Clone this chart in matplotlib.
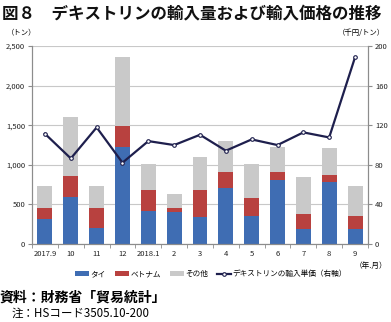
import matplotlib
matplotlib.use('Agg')
import matplotlib.pyplot as plt
import numpy as np

plt.rcParams['font.family'] = ['Noto Sans CJK JP', 'DejaVu Sans']

months = ["2017.9", "10", "11", "12", "2018.1", "2", "3", "4", "5", "6", "7", "8", "9"]
thai = [311, 598, 202, 1221, 421, 400, 337, 703, 358, 808, 185, 787, 185]
vietnam = [148, 261, 253, 273, 257, 59, 341, 202, 227, 105, 194, 84, 169]
other = [278, 741, 277, 863, 332, 168, 425, 391, 421, 312, 463, 341, 383]
price = [111.4, 86.5, 117.8, 82.2, 104.0, 100.0, 110.4, 94.3, 105.7, 100.0, 112.8, 107.7, 188.6]

c_thai = "#3f6db3"
c_viet = "#b8413f"
c_other = "#c9c9c9"
c_line = "#1e1f4d"
c_axis = "#8c8c8c"

fig = plt.figure(figsize=(3.91, 3.22), dpi=100)
ax = fig.add_axes([0.082, 0.242, 0.859, 0.615])
ax2 = ax.twinx()

x = np.arange(len(months))
w = 0.58
b1 = ax.bar(x, thai, w, color=c_thai, zorder=2)
b2 = ax.bar(x, vietnam, w, bottom=thai, color=c_viet, zorder=2)
bottom2 = np.array(thai) + np.array(vietnam)
b3 = ax.bar(x, other, w, bottom=bottom2, color=c_other, zorder=2)

ln, = ax2.plot(x, price, color=c_line, lw=1.6, marker='o', ms=2.6,
               mfc='white', mec=c_line, mew=0.8, zorder=3)

ax.set_xlim(-0.5, len(months) - 0.5)
ax.set_ylim(0, 2500)
ax2.set_ylim(0, 200)
ax.set_yticks(range(0, 2501, 500))
ax.set_yticklabels([f"{v:,}" for v in range(0, 2501, 500)])
ax2.set_yticks(range(0, 201, 40))
ax.yaxis.grid(True, color="#c8c8c8", lw=0.8, zorder=0)
ax.set_axisbelow(True)

ax.set_xticks(x)
ax.set_xticklabels(months)
ax.set_xticks(np.arange(-0.5, len(months), 1), minor=True)
ax.tick_params(axis='x', which='major', length=0, labelsize=5.5, pad=4, colors='#222222')
ax.tick_params(axis='x', which='minor', length=3, color=c_axis, direction='out')
ax.tick_params(axis='y', length=3, color=c_axis, labelsize=5.5, pad=2, colors='#222222')
ax2.tick_params(axis='y', length=3, color=c_axis, labelsize=5.5, pad=2, colors='#222222')
for a in (ax, ax2):
    for s in a.spines.values():
        s.set_color(c_axis)
        s.set_linewidth(0.8)
    a.spines['top'].set_visible(False)

fig.text(0.005, 0.985, "図８　デキストリンの輸入量および輸入価格の推移", fontsize=11.9,
         fontweight='bold', va='top', ha='left', color='#111111')
fig.text(0.055, 0.897, "（トン）", fontsize=5.3, ha='center', va='center')
fig.text(0.925, 0.897, "（千円/トン）", fontsize=5.3, ha='center', va='center')
fig.text(0.99, 0.175, "（年.月）", fontsize=5.5, ha='right', va='center')

fig.legend([b1, b2, b3, ln], ["タイ", "ベトナム", "その他", "デキストリンの輸入単価（右軸）"],
           loc='center', bbox_to_anchor=(0.54, 0.148), ncol=4, frameon=False,
           fontsize=5.5, handlelength=1.8, handleheight=0.7, columnspacing=1.2,
           handletextpad=0.2)

fig.text(0.0, 0.077, "資料：財務省「貿易統計」", fontsize=10, fontweight='bold',
         ha='left', va='center')
fig.text(0.03, 0.027, "注：HSコード3505.10-200", fontsize=8.3, ha='left', va='center')

fig.savefig("out.png", dpi=100)
plt.close(fig)
